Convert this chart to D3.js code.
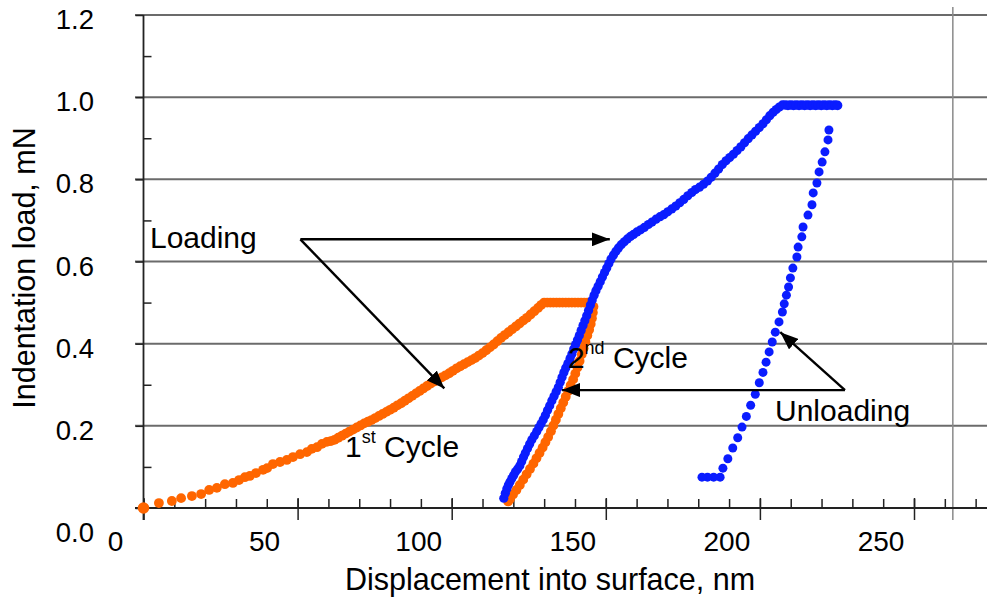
<!DOCTYPE html>
<html>
<head>
<meta charset="utf-8">
<script src="https://cdn.jsdelivr.net/npm/d3@7"></script>
<style>
  html, body { margin: 0; padding: 0; background: #fff; }
  svg { display: block; font-family: "Liberation Sans", Arial, sans-serif; }
</style>
</head>
<body>
<svg id="chart" width="987" height="602"></svg>
<script>
// ---------- DATA ----------
const xMajorTicks = [0, 50, 100, 150, 200, 250];
const xMinorTicks = [0,10,20,30,40,50,60,70,80,90,100,110,120,130,140,150,160,170,180,190,200,210,220,230,240,250,260,270];
const yMajorTicks = [0, 0.2, 0.4, 0.6, 0.8, 1.0, 1.2];
const yMinorTicks = [0.1, 0.3, 0.5, 0.7, 0.9, 1.1];
const yTickLabels = ["0.0", "0.2", "0.4", "0.6", "0.8", "1.0", "1.2"];
const xTickLabels = ["0", "50", "100", "150", "200", "250"];

// 1st cycle (orange): loading, hold, unloading  [displacement nm, load mN]
const cycle1Loading = [
  [0,0],[5.0,0.012],[9.2,0.017],[12.2,0.024],[15.7,0.029],[18.7,0.034],[21.3,0.044],[23.8,0.049],
  [26.4,0.058],[29.0,0.061],[31.0,0.068],[32.9,0.075],[34.5,0.078],[36.5,0.085],[38.8,0.093],
  [40.1,0.097],[42.0,0.107],[44.3,0.112],[46.5,0.117],[48.5,0.124],[50.8,0.131],[53.0,0.136],
  [54.6,0.144],[56.3,0.148],[57.9,0.156],[59.5,0.161],[60.8,0.163],[62.0,0.166],[63.2,0.171],
  [64.4,0.176],[65.6,0.181],[66.8,0.186],[68.0,0.191],[69.2,0.196],[70.4,0.201],[71.6,0.206],
  [72.8,0.210],[74.0,0.214],[75.2,0.219],[76.4,0.224],[77.6,0.229],[78.8,0.234],[80.0,0.239],
  [81.2,0.244],[82.4,0.250],[83.6,0.255],[84.8,0.261],[86.0,0.267],[87.2,0.273],[88.4,0.279],
  [89.6,0.285],[90.8,0.291],[92.0,0.297],[93.2,0.303],[94.4,0.308],[95.6,0.313],[96.8,0.318],
  [98.0,0.323],[99.2,0.328],[100.4,0.334],[101.6,0.340],[102.8,0.345],[104.0,0.350],[105.2,0.355],
  [106.4,0.360],[107.6,0.365],[108.8,0.371],[110.0,0.377],[111.2,0.384],[112.4,0.391],[113.6,0.398],
  [114.8,0.406],[116.0,0.414],[117.2,0.421],[118.4,0.428],[119.6,0.435],[120.8,0.442],[122.0,0.449],
  [123.2,0.456],[124.4,0.463],[125.6,0.471],[126.8,0.479],[128.0,0.487],[129.0,0.494],[130.0,0.500]
];
const cycle1Hold = [
  [131,0.500],[132,0.500],[133,0.500],[134,0.500],[135,0.500],[136,0.500],[137,0.500],[138,0.500],
  [139,0.500],[140,0.500],[141,0.500],[142,0.500],[143,0.500],[144,0.500],[145,0.500]
];
const cycle1Unloading = [
  [146.0,0.490],[145.8,0.476],[145.5,0.462],[145.1,0.448],[144.6,0.434],[144.0,0.420],[143.4,0.404],
  [142.8,0.389],[142.2,0.374],[141.5,0.358],[140.8,0.342],[140.1,0.327],[139.4,0.313],[138.6,0.299],
  [137.8,0.285],[137.0,0.271],[136.2,0.257],[135.4,0.243],[134.6,0.229],[133.8,0.215],[133.0,0.201],
  [132.2,0.187],[131.3,0.173],[130.4,0.160],[129.5,0.147],[128.5,0.134],[127.5,0.121],[126.5,0.108],
  [125.4,0.095],[124.3,0.082],[123.2,0.069],[122.1,0.056],[121.0,0.044],[119.9,0.033],[118.9,0.022],
  [118.3,0.016]
];

// 2nd cycle (blue)
const cycle2Loading = [
  [116.9,0.024],[117.4,0.036],[117.9,0.047],[118.4,0.056],[118.9,0.063],[119.5,0.072],[120.1,0.080],
  [120.7,0.088],[121.4,0.095],[122.1,0.103],[122.7,0.113],[123.3,0.124],[123.9,0.134],[124.6,0.145],
  [125.3,0.156],[126.0,0.166],[126.8,0.176],[127.6,0.186],[128.3,0.196],[129.0,0.205],[129.7,0.215],
  [130.4,0.226],[131.1,0.238],[131.8,0.249],[132.5,0.261],[133.2,0.272],[133.9,0.283],[134.6,0.294],
  [135.2,0.306],[135.8,0.318],[136.4,0.330],[137.0,0.341],[137.7,0.352],[138.4,0.364],[139.0,0.375],
  [139.6,0.387],[140.2,0.398],[140.8,0.409],[141.4,0.420],[142.0,0.432],[142.6,0.444],[143.2,0.456],
  [143.8,0.468],[144.4,0.481],[145.0,0.494],[145.6,0.506],[146.2,0.518],[146.8,0.529],[147.5,0.540],
  [148.2,0.551],[148.9,0.562],[149.6,0.573],[150.3,0.584],[151.0,0.595],[151.7,0.606],[152.5,0.616],
  [153.3,0.625],[154.1,0.633],[155.0,0.641],[156.0,0.648],[157.0,0.655],[158.0,0.661],[159.0,0.666],
  [160.1,0.672],[161.3,0.677],[162.5,0.683],[163.8,0.690],[165.0,0.696],[166.3,0.703],[167.6,0.709],
  [168.8,0.714],[170.1,0.721],[171.4,0.728],[172.7,0.735],[174.0,0.743],[175.3,0.751],[176.6,0.760],
  [177.9,0.768],[179.1,0.775],[180.4,0.781],[181.7,0.788],[183.0,0.796],[184.2,0.805],[185.4,0.815],
  [186.6,0.825],[187.8,0.836],[189.0,0.845],[190.2,0.853],[191.4,0.861],[192.6,0.870],[193.8,0.879],
  [195.0,0.889],[196.2,0.899],[197.4,0.908],[198.6,0.917],[199.8,0.926],[201.0,0.935],[202.1,0.945],
  [203.2,0.955],[204.3,0.963],[205.3,0.970],[206.3,0.976],[207.3,0.981]
];
const cycle2Hold = [
  [208.2,0.981],[209.1,0.980],[210.0,0.981],[210.9,0.980],[211.8,0.981],[212.7,0.980],[213.6,0.981],
  [214.5,0.980],[215.4,0.981],[216.3,0.980],[217.2,0.981],[218.1,0.980],[219.0,0.981],[219.9,0.980],
  [220.8,0.981],[221.7,0.980],[222.6,0.981],[223.5,0.980],[224.4,0.981],[225.2,0.980]
];
const cycle2Unloading = [
  [222.4,0.920],[222.1,0.896],[221.1,0.867],[220.2,0.842],[219.2,0.818],[218.5,0.791],[217.3,0.767],
  [216.9,0.738],[215.6,0.713],[214.0,0.684],[213.6,0.660],[212.4,0.635],[212.0,0.611],[210.7,0.584],
  [209.9,0.560],[209.3,0.538],[208.6,0.518],[207.9,0.497],[207.3,0.477],[206.2,0.453],[205.0,0.428],
  [204.0,0.404],[203.0,0.380],[202.0,0.355],[201.0,0.330],[199.8,0.305],[198.5,0.277],[197.0,0.250],
  [195.6,0.223],[194.2,0.197],[192.8,0.171],[191.2,0.146],[189.6,0.120],[188.0,0.097],[187.1,0.075],
  [185.0,0.075],[183.0,0.075],[181.2,0.075]
];

// annotations [x nm, y mN]
const loadingOrigin = [50.9, 0.654];
const loadingTips = [[151.3, 0.654], [97.6, 0.291]];
const unloadingOrigin = [227.6, 0.287];
const unloadingTips = [[135.8, 0.287], [206.6, 0.428]];
const labels = [
  {text: "Loading", sup: "", rest: "", at: [2.1, 0.634]},
  {text: "1", sup: "st", rest: " Cycle", at: [65.4, 0.124]},
  {text: "2", sup: "nd", rest: " Cycle", at: [137.7, 0.341]},
  {text: "Unloading", sup: "", rest: "", at: [204.9, 0.212]}
];

// ---------- CHART ----------
const svg = d3.select("#chart");
const x = d3.scaleLinear().domain([0, 250]).range([143.5, 914]);
const y = d3.scaleLinear().domain([0, 1.2]).range([508, 15]);
const plotRight = 987, plotLeft = 135;

// horizontal gridlines
svg.append("g").selectAll("line").data(yMajorTicks.filter(d => d > 0)).join("line")
  .attr("x1", plotLeft).attr("x2", plotRight)
  .attr("y1", d => y(d)).attr("y2", d => y(d))
  .attr("stroke", "#6b6b6b").attr("stroke-width", 2);

// right frame line
svg.append("line")
  .attr("x1", x(262.6)).attr("x2", x(262.6))
  .attr("y1", 7).attr("y2", 520)
  .attr("stroke", "#8a8a8a").attr("stroke-width", 1.5);

// X axis
const xAxisG = svg.append("g").attr("transform", `translate(0,${y(0)})`);
xAxisG.append("line").attr("x1", plotLeft).attr("x2", plotRight).attr("y1", 0).attr("y2", 0)
  .attr("stroke", "#222").attr("stroke-width", 1.8);
const xMinorG = xAxisG.append("g").call(d3.axisTop(x).tickValues(xMinorTicks).tickSize(9).tickFormat(""));
const xMajorG = xAxisG.append("g").call(d3.axisBottom(x).tickValues(xMajorTicks).tickSize(12).tickFormat(""));
[xMinorG, xMajorG].forEach(g => {
  g.select(".domain").remove();
  g.selectAll(".tick line").attr("stroke", "#222").attr("stroke-width", 1.5);
});
xMajorG.selectAll(".tick line").attr("y1", -10);

svg.append("g").selectAll("text").data(xMajorTicks).join("text")
  .attr("x", d => x(d) - (d === 0 ? 28 : 33)).attr("y", 551)
  .attr("text-anchor", "middle").attr("font-size", 28).attr("fill", "#000")
  .text((d, i) => xTickLabels[i]);

// Y axis
const yAxisG = svg.append("g").attr("transform", `translate(${x(0)},0)`);
yAxisG.append("line").attr("x1", 0).attr("x2", 0).attr("y1", y(1.2)).attr("y2", 520)
  .attr("stroke", "#222").attr("stroke-width", 1.8);
const yMajorG = yAxisG.append("g").call(d3.axisLeft(y).tickValues(yMajorTicks).tickSize(8).tickFormat(""));
const yMinorG = yAxisG.append("g").call(d3.axisRight(y).tickValues(yMinorTicks).tickSize(8).tickFormat(""));
[yMajorG, yMinorG].forEach(g => {
  g.select(".domain").remove();
  g.selectAll(".tick line").attr("stroke", "#222").attr("stroke-width", 1.5);
});

svg.append("g").selectAll("text").data(yMajorTicks).join("text")
  .attr("x", 94).attr("y", d => d === 0 ? y(d) + 34 : y(d) + 14)
  .attr("text-anchor", "end").attr("font-size", 27.5).attr("fill", "#000")
  .text((d, i) => yTickLabels[i]);

// axis titles
svg.append("text").attr("x", 550).attr("y", 590).attr("text-anchor", "middle")
  .attr("font-size", 30.5).attr("fill", "#000").text("Displacement into surface, nm");
svg.append("text").attr("transform", "translate(35,268) rotate(-90)").attr("text-anchor", "middle")
  .attr("font-size", 30.5).attr("fill", "#000").text("Indentation load, mN");

// series
const orange = "#ff6600", blue = "#0a1cff";
function dots(data, color, r) {
  svg.append("g").selectAll("circle").data(data).join("circle")
    .attr("cx", d => x(d[0])).attr("cy", d => y(d[1])).attr("r", r).attr("fill", color);
}
dots(cycle1Loading, orange, 4.9);
dots(cycle1Hold, orange, 4.9);
dots(cycle1Unloading, orange, 4.9);
svg.append("circle").attr("cx", x(cycle1Loading[0][0])).attr("cy", y(cycle1Loading[0][1])).attr("r", 5.8).attr("fill", orange);
dots(cycle2Loading, blue, 4.6);
dots(cycle2Hold, blue, 4.8);
dots(cycle2Unloading, blue, 4.5);

// arrows
const defs = svg.append("defs");
defs.append("marker").attr("id", "ah").attr("viewBox", "0 0 18 14")
  .attr("refX", 18).attr("refY", 7).attr("markerWidth", 18).attr("markerHeight", 14)
  .attr("markerUnits", "userSpaceOnUse").attr("orient", "auto")
  .append("path").attr("d", "M0,0 L18,7 L0,14 Z").attr("fill", "#000");
function arrow(from, to) {
  svg.append("line")
    .attr("x1", x(from[0])).attr("y1", y(from[1]))
    .attr("x2", x(to[0])).attr("y2", y(to[1]))
    .attr("stroke", "#000").attr("stroke-width", 2.4).attr("marker-end", "url(#ah)");
}
loadingTips.forEach(t => arrow(loadingOrigin, t));
unloadingTips.forEach(t => arrow(unloadingOrigin, t));

// labels
labels.forEach(l => {
  const t = svg.append("text").attr("x", x(l.at[0])).attr("y", y(l.at[1]))
    .attr("font-size", 30).attr("fill", "#000");
  t.append("tspan").text(l.text);
  if (l.sup) {
    t.append("tspan").attr("font-size", 18).attr("dy", -14).text(l.sup);
    t.append("tspan").attr("dy", 14).text(l.rest);
  }
});
</script>
</body>
</html>
